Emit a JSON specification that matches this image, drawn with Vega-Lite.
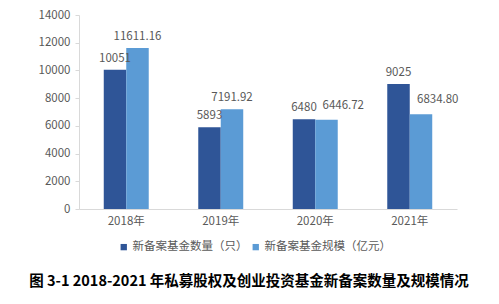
{
  "$schema": "https://vega.github.io/schema/vega-lite/v6.json",
  "width": 378,
  "height": 194,
  "autosize": {"type": "none"},
  "padding": {"left": 79, "top": 15, "right": 42, "bottom": 95},
  "background": "white",
  "config": {
    "font": "Noto Sans CJK SC",
    "view": {"stroke": null},
    "axis": {"labelColor": "#595959", "labelFontSize": 11.5, "grid": false, "title": null, "domainColor": "#D9D9D9", "tickColor": "#D9D9D9"}
  },
  "title": {
    "text": "图 3-1 2018-2021 年私募股权及创业投资基金新备案数量及规模情况",
    "orient": "bottom",
    "anchor": "middle",
    "dx": -19,
    "offset": 22,
    "fontSize": 14.5,
    "fontWeight": "bold",
    "color": "#000000"
  },
  "data": {
    "values": [
      {"year": "2018年", "series": "新备案基金数量（只）", "value": 10051, "label": "10051"},
      {"year": "2018年", "series": "新备案基金规模（亿元）", "value": 11611.16, "label": "11611.16"},
      {"year": "2019年", "series": "新备案基金数量（只）", "value": 5893, "label": "5893"},
      {"year": "2019年", "series": "新备案基金规模（亿元）", "value": 7191.92, "label": "7191.92"},
      {"year": "2020年", "series": "新备案基金数量（只）", "value": 6480, "label": "6480"},
      {"year": "2020年", "series": "新备案基金规模（亿元）", "value": 6446.72, "label": "6446.72"},
      {"year": "2021年", "series": "新备案基金数量（只）", "value": 9025, "label": "9025"},
      {"year": "2021年", "series": "新备案基金规模（亿元）", "value": 6834.8, "label": "6834.80"}
    ]
  },
  "encoding": {
    "x": {
      "field": "year", "type": "nominal", "sort": null,
      "scale": {"paddingInner": 0.524, "paddingOuter": 0.262},
      "axis": {"labelAngle": 0, "ticks": false, "labelPadding": 6}
    },
    "xOffset": {
      "field": "series", "type": "nominal",
      "sort": ["新备案基金数量（只）", "新备案基金规模（亿元）"],
      "scale": {"paddingInner": 0, "paddingOuter": 0}
    },
    "y": {
      "field": "value", "type": "quantitative",
      "scale": {"domain": [0, 14000], "nice": false},
      "axis": {"values": [0, 2000, 4000, 6000, 8000, 10000, 12000, 14000], "format": "d", "tickSize": 4, "labelPadding": 5}
    }
  },
  "layer": [
    {
      "mark": {"type": "bar"},
      "encoding": {
        "color": {
          "field": "series", "type": "nominal",
          "scale": {"domain": ["新备案基金数量（只）", "新备案基金规模（亿元）"], "range": ["#2F5597", "#5B9BD5"]},
          "legend": {
            "title": null, "orient": "none", "legendX": 39, "legendY": 226,
            "direction": "horizontal", "symbolType": "square", "symbolSize": 40,
            "labelFontSize": 11.5, "labelColor": "#595959", "columnPadding": 2, "labelOffset": 3
          }
        }
      }
    },
    {
      "transform": [{"filter": "!(datum.series == '新备案基金规模（亿元）' && (datum.year == '2020年' || datum.year == '2021年'))"}],
      "mark": {"type": "text", "baseline": "bottom", "dy": -6, "fontSize": 11.5, "color": "#595959"},
      "encoding": {"text": {"field": "label"}}
    },
    {
      "transform": [{"filter": "datum.series == '新备案基金规模（亿元）' && (datum.year == '2020年' || datum.year == '2021年')"}],
      "mark": {"type": "text", "baseline": "bottom", "align": "left", "dx": -4, "dy": -9, "fontSize": 11.5, "color": "#595959"},
      "encoding": {"text": {"field": "label"}}
    }
  ]
}
